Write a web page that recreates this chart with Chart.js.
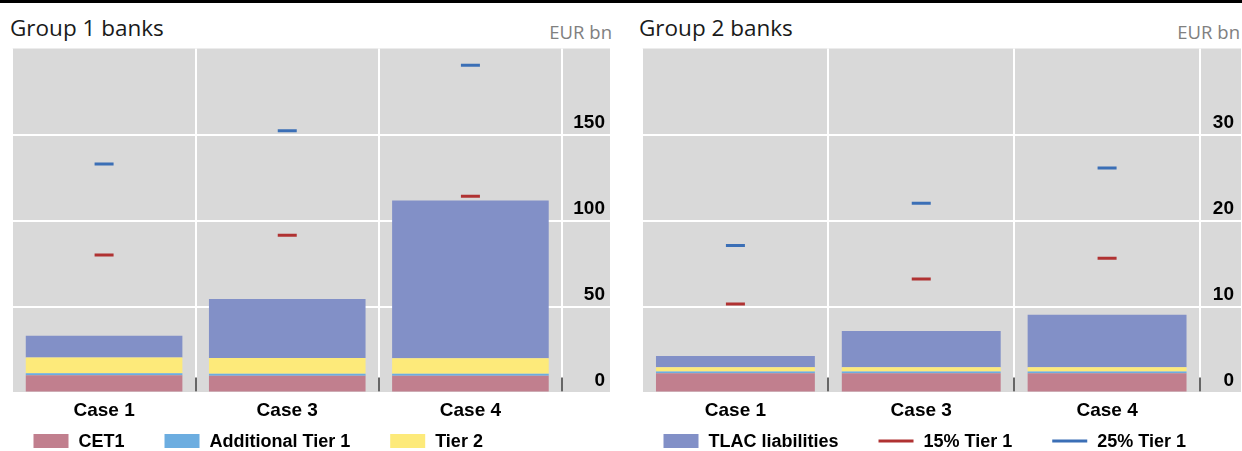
<!DOCTYPE html>
<html>
<head>
<meta charset="utf-8">
<script src="https://cdn.jsdelivr.net/npm/chart.js@4/dist/chart.umd.min.js"></script>
<style>
html,body{margin:0;padding:0;width:1242px;height:451px;overflow:hidden;background:#fff;}
#topline{position:absolute;left:0;top:0;width:1242px;height:3px;background:#000;}
.title{position:absolute;top:14px;font-family:'Open Sans',sans-serif;font-size:22.5px;line-height:28px;color:#1a1a1a;white-space:nowrap;}
.unit{position:absolute;top:19px;font-family:'Open Sans',sans-serif;font-size:18.5px;color:#808080;white-space:nowrap;}
.cv{position:absolute;top:0;height:451px;}
</style>
</head>
<body>
<div id="topline"></div>
<div class="title" style="left:10px">Group 1 banks</div>
<div class="unit" style="right:630px">EUR bn</div>
<div class="title" style="left:639px">Group 2 banks</div>
<div class="unit" style="right:2px">EUR bn</div>
<div class="cv" style="left:0;width:621px"><canvas id="c1"></canvas></div>
<div class="cv" style="left:630px;width:612px"><canvas id="c2"></canvas></div>
<script>
// ---- data ----
const categories = ['Case 1', 'Case 3', 'Case 4'];
const seriesNames = ['CET1', 'Additional Tier 1', 'Tier 2', 'TLAC liabilities', '15% Tier 1', '25% Tier 1'];

const g1CET1  = [10.0, 9.8, 9.8];
const g1AT1   = [1.2, 1.1, 1.1];
const g1Tier2 = [9.2, 9.1, 9.0];
const g1TLAC  = [12.6, 34.3, 91.7];
const g1Req15 = [80.0, 91.4, 114.1];
const g1Req25 = [132.8, 152.2, 190.2];

const g2CET1  = [2.25, 2.25, 2.25];
const g2AT1   = [0.2, 0.2, 0.2];
const g2Tier2 = [0.5, 0.5, 0.5];
const g2TLAC  = [1.3, 4.2, 6.1];
const g2Req15 = [10.3, 13.2, 15.6];
const g2Req25 = [17.1, 22.0, 26.1];

const g1TickValues = [0, 50, 100, 150];
const g2TickValues = [0, 10, 20, 30];

// ---- styling ----
const COLORS = ['#C17F8E', '#6CADE0', '#FDEA7A', '#8290C7', '#B03232', '#3B6FB6'];
const FONT_FAMILY = '"Liberation Sans", Arial, Helvetica, sans-serif';
Chart.defaults.font.family = FONT_FAMILY;

function buildDatasets(cet1, at1, t2, tlac, r15, r25) {
  const bars = [cet1, at1, t2, tlac].map((d, i) => ({
    type: 'bar', label: seriesNames[i], data: d,
    backgroundColor: COLORS[i], borderWidth: 0,
    barPercentage: 1, categoryPercentage: 0.855
  }));
  const lines = [r15, r25].map((d, j) => ({
    type: 'line', label: seriesNames[4 + j], data: d, stack: 'req' + j,
    showLine: false, pointStyle: 'line', pointRadius: 9.5, pointHoverRadius: 9.5,
    pointBorderWidth: 3, pointHoverBorderWidth: 3,
    borderColor: COLORS[4 + j], pointBorderColor: COLORS[4 + j], pointBackgroundColor: COLORS[4 + j]
  }));
  return bars.concat(lines);
}

const panelPlugin = {
  id: 'panel',
  beforeDraw(chart) {
    const {ctx, chartArea: a} = chart;
    const ys = chart.scales.y;
    ctx.save();
    ctx.fillStyle = '#D9D9D9';
    ctx.fillRect(a.left, a.top, ys.right - a.left, a.bottom - a.top);
    ctx.strokeStyle = '#FFFFFF';
    ctx.lineWidth = 2;
    chart.options.plugins.panel.ticks.forEach(v => {
      const y = Math.round(ys.getPixelForValue(v));
      ctx.beginPath();
      ctx.moveTo(a.right, y);
      ctx.lineTo(ys.right, y);
      ctx.stroke();
    });
    ctx.restore();
  },
  afterDatasetsDraw(chart) {
    const {ctx, chartArea: a} = chart;
    const xs = chart.scales.x;
    const half = (xs.getPixelForValue(1) - xs.getPixelForValue(0)) / 2;
    ctx.save();
    ctx.strokeStyle = '#333333';
    ctx.lineWidth = 1.5;
    categories.forEach((c, i) => {
      const x = Math.round(xs.getPixelForValue(i) + half);
      ctx.beginPath();
      ctx.moveTo(x, a.bottom - 15);
      ctx.lineTo(x, a.bottom - 1);
      ctx.stroke();
    });
    ctx.restore();
  },
  afterDraw(chart, args, opts) {
    const ctx = chart.ctx;
    ctx.save();
    ctx.font = 'bold 18px ' + FONT_FAMILY;
    ctx.textBaseline = 'middle';
    ctx.textAlign = 'left';
    let x = chart.chartArea.left + opts.legendStart;
    const y = opts.legendY;
    opts.legendItems.forEach(i => {
      const ds = chart.data.datasets[i];
      if (ds.type === 'line') {
        ctx.strokeStyle = ds.pointBorderColor;
        ctx.lineWidth = 3;
        ctx.beginPath();
        ctx.moveTo(x, y);
        ctx.lineTo(x + 35, y);
        ctx.stroke();
      } else {
        ctx.fillStyle = ds.backgroundColor;
        ctx.fillRect(x, y - 7, 35, 14);
      }
      ctx.fillStyle = '#000';
      ctx.fillText(ds.label, x + 45, y + 1);
      x += 45 + ctx.measureText(ds.label).width + 40;
    });
    ctx.restore();
  }
};

function makeChart(id, datasets, yMax, yStep, tickValues, legendItems, padL, padR, axisW, labelPad) {
  return new Chart(document.getElementById(id), {
    data: {labels: categories, datasets},
    plugins: [panelPlugin],
    options: {
      responsive: true, maintainAspectRatio: false, animation: false,
      layout: {padding: {left: padL, right: padR, top: 48.5, bottom: 28.5}},
      plugins: {
        legend: {display: false},
        tooltip: {enabled: false},
        panel: {ticks: tickValues, legendItems, legendStart: 21, legendY: 441}
      },
      scales: {
        x: {
          stacked: true,
          grid: {color: '#FFFFFF', lineWidth: 2, drawTicks: false, offset: true},
          border: {display: false},
          ticks: {color: '#000', font: {size: 19, weight: 'bold'}, padding: 7},
          afterFit(s) { s.height = 30; s.paddingLeft = 0; s.paddingRight = 0; }
        },
        y: {
          position: 'right', stacked: true, min: 0, max: yMax,
          grid: {color: '#FFFFFF', lineWidth: 2, drawTicks: false},
          border: {display: false},
          ticks: {
            stepSize: yStep, mirror: true, padding: labelPad, labelOffset: -12,
            color: '#000', font: {size: 19, weight: 'bold'},
            callback: v => (tickValues.includes(v) ? String(v) : null)
          },
          afterFit(s) { s.width = axisW; s.paddingTop = 0; s.paddingBottom = 0; }
        }
      }
    }
  });
}

makeChart('c1', buildDatasets(g1CET1, g1AT1, g1Tier2, g1TLAC, g1Req15, g1Req25),
  200, 50, g1TickValues, [0, 1, 2], 11, 11, 48, 43);
makeChart('c2', buildDatasets(g2CET1, g2AT1, g2Tier2, g2TLAC, g2Req15, g2Req25),
  40, 10, g2TickValues, [3, 4, 5], 10, 1, 41, 34);
</script>
</body>
</html>
